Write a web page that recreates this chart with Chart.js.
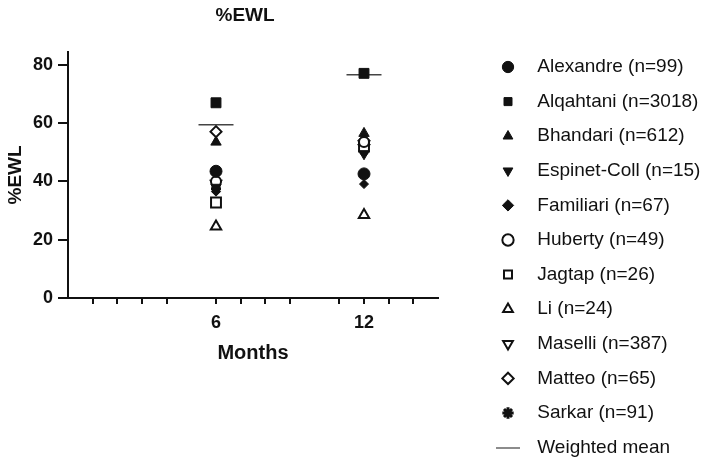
<!DOCTYPE html>
<html>
<head>
<meta charset="utf-8">
<script src="https://cdn.jsdelivr.net/npm/chart.js@4.4.1/dist/chart.umd.min.js"></script>
<style>
  html, body { margin: 0; padding: 0; background: #fff; overflow: hidden; }
  #wrap { width: 709px; height: 480px; }
</style>
</head>
<body>
<div id="wrap"><canvas id="chart"></canvas></div>
<script>
// data
const studies = ['Alexandre (n=99)', 'Alqahtani (n=3018)', 'Bhandari (n=612)', 'Espinet-Coll (n=15)',
                 'Familiari (n=67)', 'Huberty (n=49)', 'Jagtap (n=26)', 'Li (n=24)',
                 'Maselli (n=387)', 'Matteo (n=65)', 'Sarkar (n=91)'];
const months = [6, 12];
const ewl6  = [43.5, 67.0, 53.5, 38.0, 36.5, 40.0, 32.8, 24.5, 39.2, 57.1, 37.5];
const ewl12 = [42.6, 77.1, 56.5, 49.5, 39.1, 53.5, 52.0, 28.5, 51.5, 54.0, 50.5];
const weightedMean = [59.5, 76.6];
const monthTicks = [1, 2, 3, 4, 6, 7, 8, 9, 11, 12, 13, 14];
const ewlTicks = [0, 20, 40, 60, 80];

const ink = '#111';

// marker look per study (same order as studies)
const markers = [
  { style: 'circle',   r: 6,   fill: true },
  { style: 'rect',     r: 7,   fill: true },
  { style: 'triangle', r: 6,   fill: true },
  { style: 'triangle', r: 6,   fill: true, rot: 180 },
  { style: 'rectRot',  r: 4.5, fill: true },
  { style: 'circle',   r: 5,   fill: false },
  { style: 'rect',     r: 7,   fill: false },
  { style: 'triangle', r: 6,   fill: false },
  { style: 'triangle', r: 6,   fill: false, rot: 180 },
  { style: 'rectRot',  r: 5.5, fill: false },
  { style: 'star',     r: 5,   fill: true, bw: 3 }
];

const datasets = studies.map((name, i) => {
  const m = markers[i];
  return {
    label: name,
    data: months.map((mo, k) => ({ x: mo, y: [ewl6, ewl12][k][i] })),
    pointStyle: m.style,
    pointRadius: m.r,
    pointRotation: m.rot || 0,
    backgroundColor: m.fill ? ink : '#fff',
    pointBackgroundColor: m.fill ? ink : '#fff',
    borderColor: ink,
    pointBorderColor: ink,
    borderWidth: m.bw || (m.fill ? 1 : 2),
    pointBorderWidth: m.bw || (m.fill ? 1 : 2)
  };
});

datasets.push({
  label: 'Weighted mean',
  data: months.map((mo, k) => ({ x: mo, y: weightedMean[k] })),
  pointStyle: 'line',
  pointRadius: 17.5,
  borderColor: '#444',
  pointBorderColor: '#444',
  backgroundColor: '#444',
  pointBorderWidth: 1.5,
  borderWidth: 1.5
});
const meanIndex = datasets.length - 1;

// short grey dash for the legend entry of the mean
const meanSwatch = document.createElement('canvas');
meanSwatch.width = 24;
meanSwatch.height = 2;
const sctx = meanSwatch.getContext('2d');
sctx.fillStyle = '#8c8c8c';
sctx.fillRect(0, 0, 24, 2);

Chart.defaults.font.family = '"Liberation Sans", Arial, sans-serif';
Chart.defaults.color = ink;

new Chart(document.getElementById('chart'), {
  type: 'scatter',
  data: { datasets },
  options: {
    responsive: true,
    maintainAspectRatio: false,
    animation: false,
    events: [],
    layout: { padding: 0 },
    plugins: {
      tooltip: { enabled: false },
      title: {
        display: true,
        text: '%EWL   ',
        fullSize: false,
        color: ink,
        font: { size: 19, weight: 'bold' },
        padding: { top: 4, bottom: 25 }
      },
      legend: {
        position: 'right',
        align: 'start',
        maxWidth: 221.6,
        title: { display: true, text: '', font: { size: 12 }, padding: { top: 27.5, bottom: 0 } },
        labels: {
          usePointStyle: true,
          boxWidth: 10,
          boxHeight: 8,
          padding: 15.6,
          color: ink,
          font: { size: 19 },
          generateLabels: (chart) => {
            const items = Chart.defaults.plugins.legend.labels.generateLabels(chart);
            items.forEach(it => {
              it.text = '\u2002 ' + it.text;
              if (it.datasetIndex === meanIndex) it.pointStyle = meanSwatch;
            });
            return items;
          }
        }
      }
    },
    scales: {
      x: {
        type: 'linear',
        min: 0,
        max: 15,
        afterBuildTicks: s => { s.ticks = monthTicks.map(v => ({ value: v })); },
        afterFit: s => { s.height = 182; },
        ticks: {
          autoSkip: false,
          maxRotation: 0,
          padding: 8,
          color: ink,
          font: { size: 18, weight: 'bold' },
          callback: v => months.includes(v) ? String(v) : ''
        },
        grid: { drawOnChartArea: false, tickLength: 6, color: ink, lineWidth: 2 },
        border: { color: ink, width: 2 },
        title: {
          display: true,
          text: 'Months',
          color: ink,
          font: { size: 20, weight: 'bold' },
          padding: { top: 0, bottom: 115 }
        }
      },
      y: {
        min: 0,
        max: 84.5,
        afterBuildTicks: s => { s.ticks = ewlTicks.map(v => ({ value: v })); },
        afterFit: s => { s.width = 68; },
        ticks: { padding: 5, color: ink, font: { size: 18, weight: 'bold' } },
        grid: { drawOnChartArea: false, tickLength: 10, color: ink, lineWidth: 2 },
        border: { color: ink, width: 2 },
        title: {
          display: true,
          text: '%EWL',
          color: ink,
          font: { size: 19, weight: 'bold' },
          padding: { top: 4, bottom: 0 }
        }
      },
      // empty spacer between plot and legend
      gap: {
        type: 'linear',
        position: 'right',
        display: true,
        ticks: { display: false },
        grid: { display: false },
        border: { display: false },
        afterFit: s => { s.width = 49.4; }
      }
    }
  }
});
</script>
</body>
</html>
